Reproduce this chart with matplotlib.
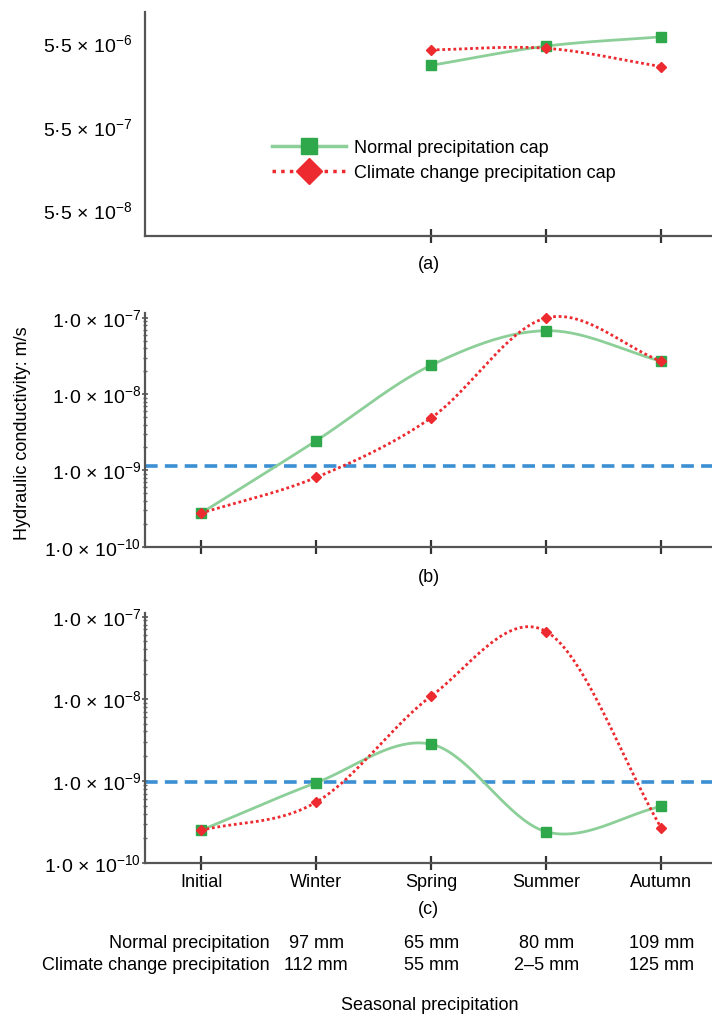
import numpy as np
import matplotlib
matplotlib.use("Agg")
import matplotlib.pyplot as plt
import matplotlib.transforms as mtransforms
from matplotlib.lines import Line2D
from matplotlib.ticker import FixedLocator, NullLocator, LogLocator

plt.rcParams['font.family'] = ['Liberation Sans', 'DejaVu Sans']
plt.rcParams['mathtext.fontset'] = 'custom'
plt.rcParams['mathtext.rm'] = 'Liberation Sans'
plt.rcParams['mathtext.it'] = 'Liberation Sans:italic'
plt.rcParams['mathtext.bf'] = 'Liberation Sans:bold'

# data (hydraulic conductivity, m/s)
seasons = ['Initial', 'Winter', 'Spring', 'Summer', 'Autumn']
a_seasons = ['Spring', 'Summer', 'Autumn']
a_normal = [3.0e-6, 5.1e-6, 6.6e-6]
a_climate = [4.6e-6, 4.8e-6, 2.9e-6]
b_normal = [2.75e-10, 2.45e-9, 2.4e-8, 6.8e-8, 2.7e-8]
b_climate = [2.75e-10, 8.1e-10, 4.9e-9, 1.0e-7, 2.7e-8]
c_normal = [2.5e-10, 9.5e-10, 2.8e-9, 2.4e-10, 4.9e-10]
c_climate = [2.5e-10, 5.5e-10, 1.08e-8, 6.6e-8, 2.65e-10]
threshold_b = 1.15e-9
threshold_c = 0.96e-9

a_ticks = [5.5e-8, 5.5e-7, 5.5e-6]
a_ticklabels = ['5·5 × $10^{-8}$', '5·5 × $10^{-7}$', '5·5 × $10^{-6}$']
bc_ticks = [1e-10, 1e-9, 1e-8, 1e-7]
bc_ticklabels = ['1·0 × $10^{-10}$', '1·0 × $10^{-9}$', '1·0 × $10^{-8}$', '1·0 × $10^{-7}$']

normal_precip = ['97 mm', '65 mm', '80 mm', '109 mm']
climate_precip = ['112 mm', '55 mm', '2–5 mm', '125 mm']

GREEN_LINE = '#8ccf98'
GREEN_MARK = '#2ea84a'
RED = '#ec2a2f'
BLUE = '#3b8fd3'
SPINE = '#555555'
FS = 13


def smooth(x, y, n=40):
    # catmull-rom curve through the points, in log space
    x = np.asarray(x, float)
    ly = np.log10(np.asarray(y, float))
    px = np.concatenate([[2 * x[0] - x[1]], x, [2 * x[-1] - x[-2]]])
    py = np.concatenate([[2 * ly[0] - ly[1]], ly, [2 * ly[-1] - ly[-2]]])
    t = np.linspace(0, 1, n, endpoint=False)
    h00 = 2 * t**3 - 3 * t**2 + 1
    h10 = t**3 - 2 * t**2 + t
    h01 = -2 * t**3 + 3 * t**2
    h11 = t**3 - t**2
    xs, ys = [], []
    for i in range(len(x) - 1):
        p0, p1, p2, p3 = py[i], py[i + 1], py[i + 2], py[i + 3]
        q0, q1, q2, q3 = px[i], px[i + 1], px[i + 2], px[i + 3]
        ys.append(h00 * p1 + h10 * (p2 - p0) / 2 + h01 * p2 + h11 * (p3 - p1) / 2)
        xs.append(h00 * q1 + h10 * (q2 - q0) / 2 + h01 * q2 + h11 * (q3 - q1) / 2)
    xs.append([x[-1]])
    ys.append([ly[-1]])
    marks = [i * n for i in range(len(x))]
    return np.concatenate(xs), 10 ** np.concatenate(ys), marks


def draw_series(ax, x, normal, climate):
    sx, sy, mk = smooth(x, normal)
    ax.plot(sx, sy, color=GREEN_LINE, lw=2, marker='s', ms=7,
            mfc=GREEN_MARK, mec=GREEN_MARK, markevery=mk, zorder=3)
    sx, sy, mk = smooth(x, climate)
    ax.plot(sx, sy, color=RED, lw=2, ls=(0, (1, 1)), marker='D', ms=5,
            mfc=RED, mec=RED, markevery=mk, zorder=4)


def style_axes(ax, xticks):
    ax.spines['top'].set_visible(False)
    ax.spines['right'].set_visible(False)
    for s in ('left', 'bottom'):
        ax.spines[s].set_color(SPINE)
        ax.spines[s].set_linewidth(1.6)
    ax.set_xlim(-0.487, 4.44)
    ax.set_xticks(xticks)
    ax.tick_params(axis='x', direction='inout', length=10, width=1.6,
                   color='#333333', labelsize=FS, pad=3)
    ax.tick_params(axis='y', which='major', direction='inout', length=4,
                   width=1.2, color='#555555', labelsize=14, pad=1)
    ax.tick_params(axis='y', which='minor', direction='inout', length=2.5,
                   width=1.0, color='#666666')


fig = plt.figure(figsize=(7.12, 10.18), dpi=100)
xpos = np.arange(len(seasons))
a_pos = [seasons.index(s) for s in a_seasons]

# (a)
ax_a = fig.add_axes([0.2037, 0.7682, 0.7963, 0.2203])
draw_series(ax_a, a_pos, a_normal, a_climate)
ax_a.set_yscale('log')
ax_a.set_ylim(2.68e-8, 1.32e-5)
style_axes(ax_a, a_pos)
ax_a.set_xticklabels([])
ax_a.yaxis.set_major_locator(FixedLocator(a_ticks))
ax_a.set_yticklabels(a_ticklabels)
ax_a.yaxis.set_minor_locator(NullLocator())
ax_a.tick_params(axis='y', which='major', pad=9, length=0)
handles = [
    Line2D([], [], color=GREEN_LINE, lw=2.5, marker='s', ms=11,
           mfc=GREEN_MARK, mec=GREEN_MARK),
    Line2D([], [], color=RED, lw=2.5, ls=(0, (1, 1.5)), marker='D', ms=13,
           mfc=RED, mec=RED),
]
ax_a.legend(handles, ['Normal precipitation cap', 'Climate change precipitation cap'],
            loc='upper left', bbox_to_anchor=(0.224, 0.43), frameon=False,
            fontsize=FS, handlelength=4.1, handletextpad=0.45,
            labelspacing=0.45, borderpad=0, borderaxespad=0, numpoints=1)

# (b)
ax_b = fig.add_axes([0.2037, 0.4630, 0.7963, 0.2295])
draw_series(ax_b, xpos, b_normal, b_climate)
ax_b.axhline(threshold_b, color=BLUE, lw=2.6, dashes=[3.5, 2], zorder=2)
ax_b.set_yscale('log')
ax_b.set_ylim(1e-10, 1.16e-7)
style_axes(ax_b, xpos)
ax_b.set_xticklabels([])
ax_b.yaxis.set_major_locator(FixedLocator(bc_ticks))
ax_b.set_yticklabels(bc_ticklabels)
ax_b.yaxis.set_minor_locator(LogLocator(base=10, subs=np.arange(2, 10)))

# (c)
ax_c = fig.add_axes([0.2037, 0.1523, 0.7963, 0.2452])
draw_series(ax_c, xpos, c_normal, c_climate)
ax_c.axhline(threshold_c, color=BLUE, lw=2.6, dashes=[3.5, 2], zorder=2)
ax_c.set_yscale('log')
ax_c.set_ylim(1e-10, 1.1e-7)
style_axes(ax_c, xpos)
ax_c.set_xticklabels(seasons)
ax_c.yaxis.set_major_locator(FixedLocator(bc_ticks))
ax_c.set_yticklabels(bc_ticklabels)
ax_c.yaxis.set_minor_locator(LogLocator(base=10, subs=np.arange(2, 10)))

# panel letters
for lab, yy in (('(a)', 0.7397), ('(b)', 0.4332), ('(c)', 0.1061)):
    fig.text(0.602, yy, lab, ha='center', va='center', fontsize=FS)

fig.text(0.031, 1 - 433 / 1018, 'Hydraulic conductivity: m/s', rotation=90,
         ha='center', va='center', fontsize=FS)

# precipitation table under panel (c)
trans = mtransforms.blended_transform_factory(ax_c.transData, fig.transFigure)
y1, y2 = 1 - 944 / 1018, 1 - 965 / 1018
fig.text(270 / 712, y1, 'Normal precipitation', ha='right', va='center', fontsize=FS)
fig.text(270 / 712, y2, 'Climate change precipitation', ha='right', va='center', fontsize=FS)
for i, (n, c) in enumerate(zip(normal_precip, climate_precip)):
    ax_c.text(i + 1, y1, n, transform=trans, ha='center', va='center', fontsize=FS)
    ax_c.text(i + 1, y2, c, transform=trans, ha='center', va='center', fontsize=FS)
fig.text(0.604, 1 - 1005 / 1018, 'Seasonal precipitation', ha='center', va='center',
         fontsize=FS)

fig.savefig('out.png', dpi=100)
